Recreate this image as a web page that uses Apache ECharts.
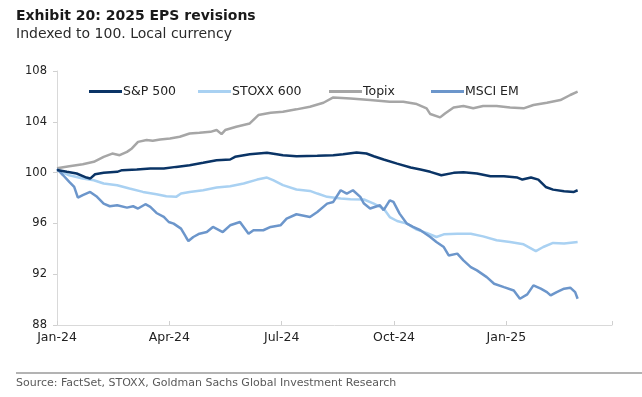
<!DOCTYPE html>
<html>
<head>
<meta charset="utf-8">
<script src="https://cdn.jsdelivr.net/npm/echarts@6/dist/echarts.min.js"></script>
<style>
html,body{margin:0;padding:0;background:#fff;}
#chart{width:642px;height:397px;}
</style>
</head>
<body>
<div id="chart"></div>
<script>
// ---- Data ----
const tickLabels = ['Jan-24', 'Apr-24', 'Jul-24', 'Oct-24', 'Jan-25'];
const seriesNames = ['S&P 500', 'STOXX 600', 'Topix', 'MSCI EM'];

const spDates = ['2024-01-01','2024-01-02','2024-01-09','2024-01-17','2024-01-25','2024-01-28','2024-02-01','2024-02-08','2024-02-19','2024-02-23','2024-03-06','2024-03-17','2024-03-28','2024-04-07','2024-04-18','2024-04-29','2024-05-10','2024-05-21','2024-05-25','2024-06-06','2024-06-20','2024-06-28','2024-07-03','2024-07-14','2024-07-31','2024-08-13','2024-08-21','2024-09-01','2024-09-09','2024-09-15','2024-09-23','2024-10-04','2024-10-15','2024-10-23','2024-10-31','2024-11-09','2024-11-19','2024-11-27','2024-12-08','2024-12-19','2024-12-30','2025-01-10','2025-01-14','2025-01-21','2025-01-27','2025-02-02','2025-02-08','2025-02-17','2025-02-25','2025-02-28'];
const spValues = [100.2,100.19,100.06,99.93,99.61,99.53,99.87,99.98,100.06,100.19,100.24,100.32,100.32,100.45,100.58,100.77,100.98,101.03,101.24,101.45,101.56,101.45,101.37,101.29,101.32,101.37,101.45,101.58,101.50,101.29,101.03,100.71,100.40,100.24,100.06,99.79,99.98,100.03,99.93,99.72,99.72,99.61,99.45,99.61,99.45,98.87,98.66,98.53,98.48,98.61];

const stoxxDates = ['2024-01-01','2024-01-02','2024-01-11','2024-01-22','2024-01-31','2024-02-08','2024-02-19','2024-02-29','2024-03-11','2024-03-22','2024-03-30','2024-04-07','2024-04-11','2024-04-18','2024-04-29','2024-05-10','2024-05-21','2024-06-01','2024-06-12','2024-06-20','2024-06-25','2024-07-03','2024-07-14','2024-07-25','2024-07-31','2024-08-08','2024-08-19','2024-08-27','2024-09-07','2024-09-15','2024-09-23','2024-09-28','2024-10-04','2024-10-12','2024-10-20','2024-10-28','2024-11-05','2024-11-11','2024-11-22','2024-12-03','2024-12-13','2024-12-24','2025-01-04','2025-01-15','2025-01-25','2025-01-31','2025-02-08','2025-02-17','2025-02-28'];
const stoxxValues = [100.2,100.19,99.79,99.53,99.40,99.14,99.01,98.75,98.48,98.30,98.14,98.09,98.35,98.48,98.61,98.82,98.93,99.14,99.45,99.61,99.40,99.01,98.67,98.56,98.35,98.09,97.96,97.90,97.88,97.56,97.17,96.50,96.19,95.98,95.51,95.25,94.93,95.14,95.19,95.19,94.98,94.67,94.54,94.35,93.82,94.14,94.46,94.41,94.54];

const topixDates = ['2024-01-01','2024-01-02','2024-01-11','2024-01-22','2024-01-31','2024-02-08','2024-02-15','2024-02-21','2024-02-27','2024-03-02','2024-03-07','2024-03-14','2024-03-19','2024-03-25','2024-04-02','2024-04-10','2024-04-18','2024-04-26','2024-05-05','2024-05-10','2024-05-14','2024-05-17','2024-05-26','2024-06-06','2024-06-13','2024-06-23','2024-07-03','2024-07-14','2024-07-25','2024-08-05','2024-08-13','2024-08-27','2024-09-12','2024-09-28','2024-10-09','2024-10-20','2024-10-28','2024-10-31','2024-11-08','2024-11-12','2024-11-19','2024-11-27','2024-12-05','2024-12-13','2024-12-24','2025-01-04','2025-01-15','2025-01-23','2025-02-03','2025-02-14','2025-02-22','2025-02-28'];
const topixValues = [100.35,100.40,100.50,100.66,100.85,101.24,101.50,101.37,101.63,101.90,102.42,102.56,102.50,102.61,102.69,102.82,103.08,103.13,103.21,103.35,103.03,103.35,103.61,103.87,104.53,104.71,104.79,104.98,105.18,105.50,105.92,105.84,105.71,105.58,105.58,105.40,105.06,104.61,104.35,104.66,105.13,105.24,105.06,105.24,105.24,105.13,105.06,105.32,105.50,105.71,106.11,106.37];

const emDates = ['2024-01-01','2024-01-02','2024-01-06','2024-01-11','2024-01-15','2024-01-18','2024-01-22','2024-01-28','2024-02-02','2024-02-08','2024-02-13','2024-02-19','2024-02-27','2024-03-03','2024-03-07','2024-03-13','2024-03-17','2024-03-22','2024-03-28','2024-04-01','2024-04-05','2024-04-11','2024-04-15','2024-04-17','2024-04-21','2024-04-26','2024-05-02','2024-05-07','2024-05-15','2024-05-21','2024-05-29','2024-06-05','2024-06-09','2024-06-17','2024-06-23','2024-07-01','2024-07-06','2024-07-14','2024-07-25','2024-07-31','2024-08-08','2024-08-13','2024-08-19','2024-08-24','2024-08-29','2024-09-04','2024-09-07','2024-09-12','2024-09-20','2024-09-23','2024-09-28','2024-10-01','2024-10-06','2024-10-12','2024-10-17','2024-10-23','2024-10-31','2024-11-05','2024-11-11','2024-11-15','2024-11-22','2024-11-27','2024-12-03','2024-12-08','2024-12-16','2024-12-22','2024-12-30','2025-01-07','2025-01-12','2025-01-18','2025-01-23','2025-01-29','2025-02-03','2025-02-06','2025-02-11','2025-02-17','2025-02-22','2025-02-26','2025-02-28'];
const emValues = [100.3,100.32,99.79,99.27,98.87,98.03,98.22,98.48,98.14,97.56,97.35,97.43,97.24,97.35,97.17,97.51,97.30,96.82,96.51,96.11,95.98,95.59,94.93,94.61,94.93,95.19,95.32,95.72,95.32,95.85,96.11,95.19,95.46,95.46,95.72,95.85,96.38,96.72,96.51,96.90,97.56,97.69,98.61,98.35,98.61,98.09,97.56,97.17,97.43,97.04,97.82,97.69,96.77,95.98,95.72,95.46,94.93,94.54,94.14,93.48,93.62,93.09,92.56,92.30,91.77,91.25,90.98,90.72,90.07,90.41,91.12,90.86,90.59,90.33,90.59,90.86,90.94,90.59,90.07];

// ---- helpers ----
const BASE = Date.UTC(2024, 0, 1);
function dayOf(s) {
  const p = s.split('-').map(Number);
  return (Date.UTC(p[0], p[1] - 1, p[2]) - BASE) / 86400000;
}
function pairs(dates, vals) {
  return dates.map((d, i) => [dayOf(d), vals[i]]);
}
const QUARTER = 91.5;
const FONT = "'DejaVu Sans', 'Liberation Sans', Arial, sans-serif";
const colors = ['#0a3466', '#a9d1f2', '#a6a6a6', '#6c96cb'];
const datasets = [pairs(spDates, spValues), pairs(stoxxDates, stoxxValues), pairs(topixDates, topixValues), pairs(emDates, emValues)];
const legendLeft = [84, 193, 324, 426];

const chart = echarts.init(document.getElementById('chart'), null, { renderer: 'canvas' });
chart.setOption({
  animation: false,
  backgroundColor: '#ffffff',
  color: colors,
  title: {
    text: 'Exhibit 20: 2025 EPS revisions',
    subtext: 'Indexed to 100. Local currency',
    left: 16, top: 8, itemGap: 2, padding: 0,
    textStyle: { fontFamily: FONT, fontSize: 14, fontWeight: 'bold', color: '#1a1a1a', lineHeight: 16 },
    subtextStyle: { fontFamily: FONT, fontSize: 14, color: '#2b2b2b', lineHeight: 16 }
  },
  legend: seriesNames.map((n, i) => ({
    data: [n],
    left: legendLeft[i], top: 80,
    itemWidth: 33, itemHeight: 3,
    icon: 'rect',
    selectedMode: false,
    textStyle: { fontFamily: FONT, fontSize: 12.5, color: '#222222', padding: [0, 0, 0, -4] }
  })),
  grid: { left: 57, right: 30, top: 71, bottom: 72, containLabel: false },
  xAxis: {
    type: 'value', min: 0, max: 452, interval: QUARTER,
    axisLine: { show: true, lineStyle: { color: '#d9d9d9', width: 1 } },
    axisTick: { show: true, inside: true, length: 4, lineStyle: { color: '#d0d0d0' } },
    splitLine: { show: false },
    axisLabel: {
      fontFamily: FONT, fontSize: 12.5, color: '#222222', margin: 6,
      formatter: function (v) {
        const i = Math.round(v / QUARTER);
        return (Math.abs(v - i * QUARTER) < 0.01 && i < tickLabels.length) ? tickLabels[i] : '';
      }
    }
  },
  yAxis: {
    type: 'value', min: 88, max: 108, interval: 4,
    axisLine: { show: true, lineStyle: { color: '#d9d9d9', width: 1 } },
    axisTick: { show: true, length: 4, lineStyle: { color: '#d0d0d0' } },
    splitLine: { show: false },
    axisLabel: { fontFamily: FONT, fontSize: 11.5, color: '#222222', margin: 10 }
  },
  series: seriesNames.map((n, i) => ({
    name: n, type: 'line', data: datasets[i], showSymbol: false, symbol: 'none',
    lineStyle: { width: 2.5, color: colors[i] }, itemStyle: { color: colors[i] },
    z: [4, 2, 1, 3][i]
  })),
  graphic: [
    { type: 'line', shape: { x1: 16, y1: 373, x2: 642, y2: 373 }, style: { stroke: '#b3b3b3', lineWidth: 2 } },
    { type: 'text', left: 16, top: 378, style: { text: 'Source: FactSet, STOXX, Goldman Sachs Global Investment Research', font: "11px 'DejaVu Sans', 'Liberation Sans', Arial, sans-serif", fill: '#595959' } }
  ]
});
</script>
</body>
</html>
